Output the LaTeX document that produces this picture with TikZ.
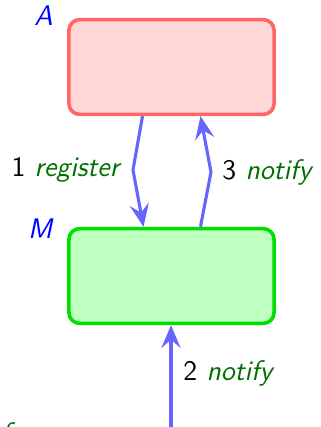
\documentclass[tikz,border=0pt]{standalone}
\usetikzlibrary{arrows.meta,calc}
\definecolor{boxredfill}{RGB}{255,215,215}
\definecolor{boxredline}{RGB}{255,102,102}
\definecolor{boxgreenfill}{RGB}{191,255,191}
\definecolor{boxgreenline}{RGB}{0,224,0}
\definecolor{arrblue}{RGB}{102,102,255}
\definecolor{lblgreen}{RGB}{0,110,0}
\begin{document}
\begin{tikzpicture}[x=0.4167pt,y=-0.4167pt,font=\sffamily\fontsize{11.8}{14}\selectfont,
  box/.style={draw,rounded corners=4.5pt,line width=1.5pt,minimum width=85.5pt,minimum height=39.5pt,inner sep=0pt},
  redbox/.style={box,draw=boxredline,fill=boxredfill},
  greenbox/.style={box,draw=boxgreenline,fill=boxgreenfill},
  arr/.style={draw=arrblue,line width=1.3pt,-{Stealth[length=9.5pt,width=8pt,inset=3.5pt]}},
  tag/.style={text=blue,inner sep=0pt},
  lbl/.style={text=black}]
\clip (0,0) rectangle (320,427);
\useasboundingbox (0,0) rectangle (320,427);
\node[redbox] (A) at (171.5,67) {};
\node[greenbox] (M) at (171.5,276) {};
\node[tag,anchor=base east] (Atag) at ($(A.north west)+(-14,8)$) {\textit{A}};
\node[tag,anchor=base east] (Mtag) at ($(M.north west)+(-13,12)$) {\textit{M}};
\coordinate (r1) at (133,170);
\coordinate (n1) at (211,172);
\coordinate (b0) at (171,445);
\draw[arr] ($(A.south)+(-29,0)$) -- (r1) -- ($(M.north)+(-28,0)$);
\draw[arr] ($(M.north)+(29,0)$) -- (n1) -- ($(A.south)+(29,0)$);
\draw[arr] (b0) -- (M.south -| b0);
\node[anchor=east,inner sep=0pt] (L1) at (122,170) {1 \textcolor{lblgreen}{\textit{register}}};
\node[anchor=west,inner sep=0pt] (L3) at (222,172) {3 \textcolor{lblgreen}{\textit{notify}}};
\node[anchor=west,inner sep=0pt] (L2) at (183,373) {2 \textcolor{lblgreen}{\textit{notify}}};
\node[anchor=north west,inner sep=0pt,text=lblgreen] (F) at (1,422) {\textit{f}};
\end{tikzpicture}
\end{document}
